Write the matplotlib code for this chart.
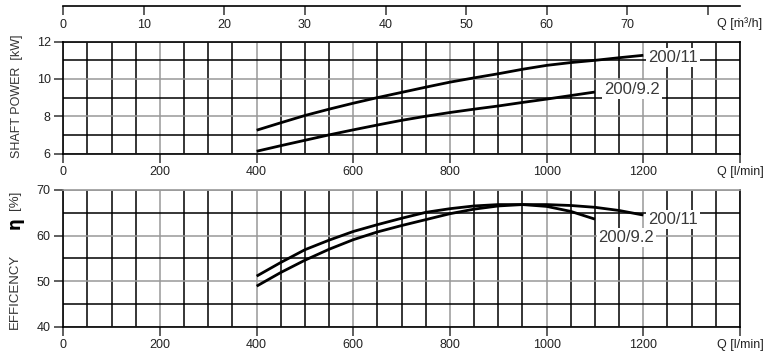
import matplotlib.pyplot as plt
from matplotlib.ticker import MultipleLocator

# flow points [l/min]
q_11 = [400, 450, 500, 550, 600, 650, 700, 750, 800, 850, 900, 950, 1000, 1050, 1100, 1150, 1200]
q_92 = [400, 450, 500, 550, 600, 650, 700, 750, 800, 850, 900, 950, 1000, 1050, 1100]

# shaft power [kW]
p_11 = [7.25, 7.65, 8.04, 8.38, 8.7, 9.0, 9.28, 9.56, 9.83, 10.06, 10.28, 10.52, 10.73, 10.88, 11.0, 11.14, 11.27]
p_92 = [6.12, 6.42, 6.71, 7.0, 7.27, 7.53, 7.78, 8.0, 8.2, 8.38, 8.55, 8.74, 8.92, 9.11, 9.3]

# efficiency [%]
e_11 = [48.9, 51.9, 54.6, 57.0, 59.1, 60.8, 62.2, 63.5, 64.8, 65.8, 66.5, 66.8, 66.8, 66.6, 66.2, 65.5, 64.5]
e_92 = [51.1, 54.1, 56.9, 59.0, 60.9, 62.4, 63.8, 65.1, 65.9, 66.5, 66.8, 66.8, 66.4, 65.3, 63.6]

q_ticks = [0, 200, 400, 600, 800, 1000, 1200, 1400]
q_labels = ['0', '200', '400', '600', '800', '1000', '1200', 'Q [l/min]']
m3_ticks = [0, 10, 20, 30, 40, 50, 60, 70, 80]
m3_labels = ['0', '10', '20', '30', '40', '50', '60', '70', '']

W, H = 783, 364
fig = plt.figure(figsize=(W / 100, H / 100), dpi=100)
tick_font = ['Liberation Sans', 'DejaVu Sans']
narrow = ['Liberation Sans Narrow', 'Liberation Sans', 'DejaVu Sans']

left = 63.3 / W
width = (740 - 63.3) / W


def box(top_px, bot_px):
    return [left, 1 - bot_px / H, width, (bot_px - top_px) / H]


ax1 = fig.add_axes(box(41.7, 153.5))
ax2 = fig.add_axes(box(190, 326.7))


def style(ax, ymin, ymax, ymaj, ymin_step):
    ax.set_xlim(0, 1400)
    ax.set_ylim(ymin, ymax)
    ax.set_xticks(q_ticks)
    ax.set_xticklabels(q_labels)
    ax.set_yticks(range(ymin, ymax + 1, ymaj))
    ax.xaxis.set_minor_locator(MultipleLocator(50))
    ax.yaxis.set_minor_locator(MultipleLocator(ymin_step))
    ax.grid(which='minor', color='black', lw=1.1)
    ax.grid(which='major', color='#999999', lw=1.1)
    ax.set_axisbelow(True)
    ax.tick_params(which='minor', length=0)
    ax.tick_params(which='major', length=6.5, width=1.1, color='#333333',
                   labelsize=9, pad=2.5, labelcolor='#222222')
    for s in ax.spines.values():
        s.set_color('black')
        s.set_linewidth(1.2)
    for t in ax.get_xticklabels() + ax.get_yticklabels():
        t.set_family(tick_font)


style(ax1, 6, 12, 2, 1)
style(ax2, 40, 70, 10, 5)
ax2.spines['top'].set_color('#999999')

lw = 2.0
ax1.plot(q_11, p_11, color='black', lw=lw, solid_capstyle='butt')
ax1.plot(q_92, p_92, color='black', lw=lw, solid_capstyle='butt')
ax2.plot(q_11, e_11, color='black', lw=lw, solid_capstyle='butt')
ax2.plot(q_92, e_92, color='black', lw=lw, solid_capstyle='butt')

lab = dict(ha='center', va='center', fontsize=12, color='#3a3a3a', family=tick_font,
           bbox=dict(facecolor='white', edgecolor='none', pad=1.5))
ax1.text(1262, 11.13, '200/11', **lab)
ax1.text(1177, 9.46, '200/9.2', **lab)
ax2.text(1261, 63.6, '200/11', **lab)
ax2.text(1165, 59.6, '200/9.2', **lab)

# m3/h scale on top
ax0 = fig.add_axes([left, 1 - 6 / H, width, 0.0001])
ax0.set_xlim(0, 1400 * 60 / 1000)
ax0.set_ylim(0, 1)
ax0.set_yticks([])
ax0.set_xticks(m3_ticks)
ax0.set_xticklabels(m3_labels)
for k in ['top', 'left', 'right']:
    ax0.spines[k].set_visible(False)
ax0.spines['bottom'].set_linewidth(1.2)
ax0.patch.set_visible(False)
ax0.tick_params(length=6.5, width=1.1, color='#333333', labelsize=9, pad=3,
                labelcolor='#222222')
for t in ax0.get_xticklabels():
    t.set_family(tick_font)
fig.text(740 / W, 1 - 24 / H, 'Q [ṁ³/h]', ha='center', va='center',
         fontsize=9, family=tick_font, color='#222222')

# axis titles
fig.text(17 / W, 1 - 96.5 / H, 'SHAFT POWER  [kW]', rotation=90, ha='center', va='center',
         fontsize=9, family=narrow, color='#333333')
fig.text(15 / W, 1 - 291 / H, 'EFFICENCY', rotation=90, ha='center', va='center',
         fontsize=9.5, family=narrow, color='#333333')
fig.text(15 / W, 1 - 223 / H, 'η', rotation=90, ha='center', va='center',
         fontsize=12, fontweight='bold', family=['DejaVu Sans'], color='black')
fig.text(15 / W, 1 - 200.5 / H, '[%]', rotation=90, ha='center', va='center',
         fontsize=9.5, family=narrow, color='#333333')

fig.savefig('out.png', dpi=100, facecolor='white')
